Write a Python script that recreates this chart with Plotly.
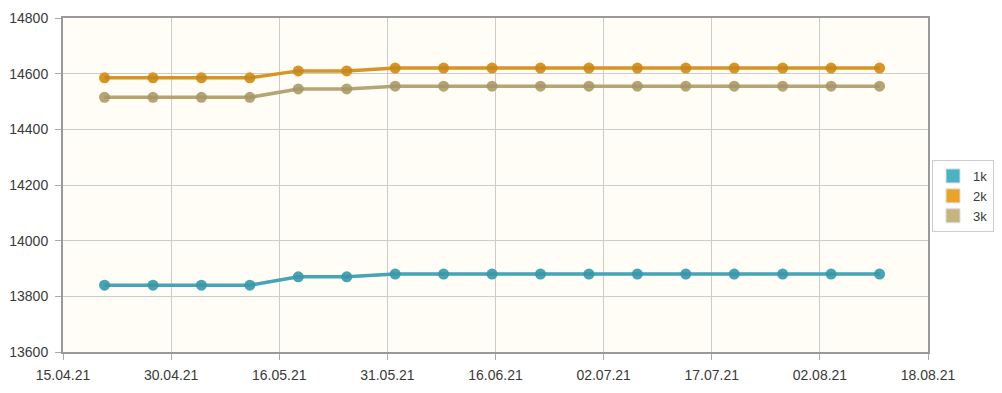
import pandas as pd
import plotly.graph_objects as go

dates = ["2021-04-21", "2021-04-28", "2021-05-05", "2021-05-12", "2021-05-19", "2021-05-26",
         "2021-06-02", "2021-06-09", "2021-06-16", "2021-06-23", "2021-06-30", "2021-07-07",
         "2021-07-14", "2021-07-21", "2021-07-28", "2021-08-04", "2021-08-11"]
s1k = [13840, 13840, 13840, 13840, 13870, 13870, 13880, 13880, 13880, 13880, 13880, 13880,
       13880, 13880, 13880, 13880, 13880]
s2k = [14585, 14585, 14585, 14585, 14610, 14610, 14620, 14620, 14620, 14620, 14620, 14620,
       14620, 14620, 14620, 14620, 14620]
s3k = [14515, 14515, 14515, 14515, 14545, 14545, 14555, 14555, 14555, 14555, 14555, 14555,
       14555, 14555, 14555, 14555, 14555]
series_names = ["1k", "2k", "3k"]
colors = ["#4bb2c5", "#EAA228", "#c5b47f"]
x_ticklabels = ["15.04.21", "30.04.21", "16.05.21", "31.05.21", "16.06.21",
                "02.07.21", "17.07.21", "02.08.21", "18.08.21"]
y_ticks = [13600, 13800, 14000, 14200, 14400, 14600, 14800]

x_start = pd.Timestamp("2021-04-15")
x_end = pd.Timestamp("2021-08-18")
step = (x_end - x_start) / (len(x_ticklabels) - 1)
tickvals = [x_start + k * step for k in range(len(x_ticklabels))]

off = 8  # page body margin
W, H = 1002 - off, 393 - off
sh = 2  # shadow offset in px
ml, mr, mt, mb = 63 - off, W - (928 - off) - sh, 18 - off, H - (352 - off) - sh
pw, ph = W - ml - mr, H - mt - mb
dx, dy = sh / pw, sh / ph

fig = go.Figure()
data = [s1k, s2k, s3k]
# shadows
for vals in data:
    fig.add_trace(go.Scatter(x=dates, y=vals, mode="lines+markers", xaxis="x2", yaxis="y2",
                             line=dict(color="rgba(0,0,0,0.08)", width=3.5),
                             marker=dict(size=11, color="rgba(0,0,0,0.08)"),
                             showlegend=False, hoverinfo="skip"))
for vals, name, c in zip(data, series_names, colors):
    fig.add_trace(go.Scatter(x=dates, y=vals, mode="lines+markers", name=name,
                             line=dict(color=c, width=3.5),
                             marker=dict(size=11, color=c), showlegend=False))
for name, c in zip(series_names, colors):
    fig.add_trace(go.Scatter(x=[None], y=[None], mode="markers", name=name,
                             marker=dict(symbol="square", size=14, color=c,
                                         line=dict(color="#dddddd", width=1))))

axis_font = dict(family="Liberation Sans, Arial, sans-serif", size=14, color="#3a3a3a")
fig.update_layout(
    width=W, height=H,
    margin=dict(l=ml, r=mr, t=mt, b=mb, pad=0, autoexpand=False),
    paper_bgcolor="#ffffff", plot_bgcolor="#fffdf6",
    xaxis=dict(type="date", range=[x_start, x_end], tickvals=tickvals, ticktext=x_ticklabels,
               showgrid=True, gridcolor="#cccccc", gridwidth=1,
               showline=True, linecolor="#999999", linewidth=2, mirror=True,
               ticks="outside", ticklen=6, tickcolor="#aaaaaa", tickfont=axis_font,
               ticklabelstandoff=3,
               zeroline=False, domain=[0, 1 - dx], automargin=False),
    yaxis=dict(range=[13600, 14800], tickvals=y_ticks, ticktext=[str(v) for v in y_ticks],
               showgrid=True, gridcolor="#cccccc", gridwidth=1,
               showline=True, linecolor="#999999", linewidth=2, mirror=True,
               ticks="outside", ticklen=6, tickcolor="#aaaaaa", tickfont=axis_font,
               ticklabelstandoff=4,
               zeroline=False, domain=[dy, 1], automargin=False),
    xaxis2=dict(type="date", range=[x_start, x_end], overlaying="x", anchor="y2",
                domain=[dx, 1], visible=False, automargin=False),
    yaxis2=dict(range=[13600, 14800], overlaying="y", anchor="x2",
                domain=[0, 1 - dy], visible=False, automargin=False),
    legend=dict(x=(932 - off) / W, y=1 - (196 - off) / H, xref="container", yref="container",
                xanchor="left", yanchor="middle",
                bordercolor="#cccccc", borderwidth=1, bgcolor="#ffffff",
                font=dict(family="Liberation Sans, Arial, sans-serif", size=13, color="#3a3a3a"),
                itemwidth=30, tracegroupgap=0),
    showlegend=True,
)
fig.write_html("out.html")
